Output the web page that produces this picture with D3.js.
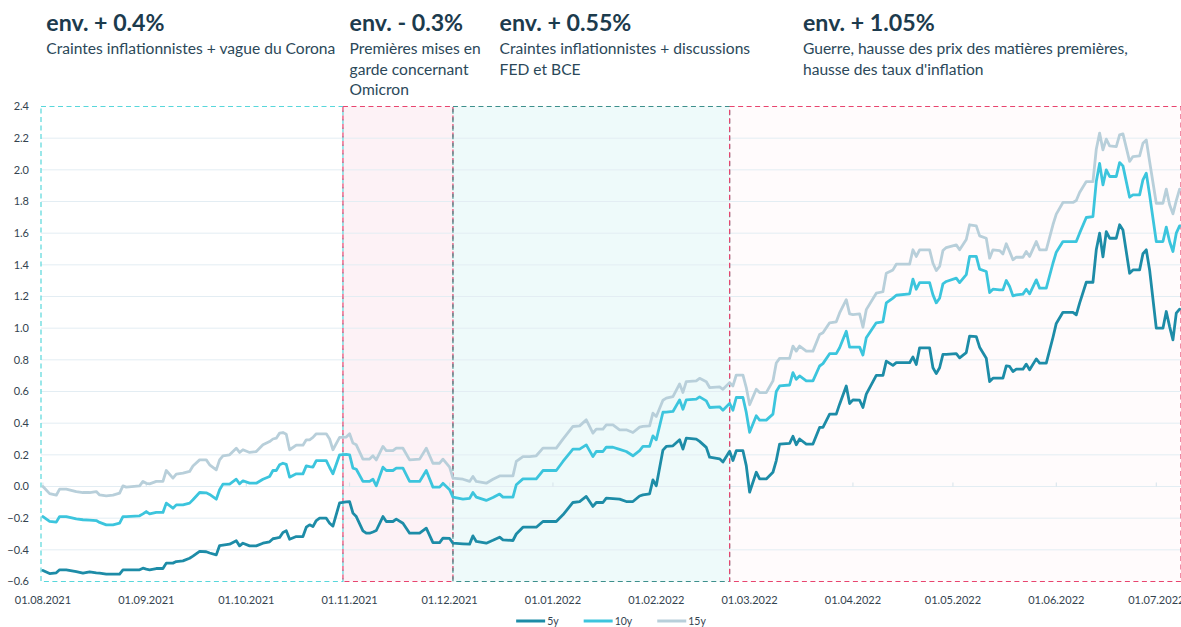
<!DOCTYPE html>
<html><head><meta charset="utf-8">
<script src="https://cdn.jsdelivr.net/npm/d3@7"></script>
<style>
body{margin:0;background:#fff}
svg{display:block}
text{font-family:Lato,"Open Sans",sans-serif}
</style>
</head><body>
<svg id="chart" width="1181" height="627"></svg>
<script>
// ---------- data ----------
const dates = [
 "2021-08-01","2021-08-03","2021-08-05","2021-08-06","2021-08-08","2021-08-11","2021-08-13","2021-08-15","2021-08-17","2021-08-18","2021-08-20","2021-08-22","2021-08-24","2021-08-25","2021-08-26","2021-08-30","2021-08-31",
 "2021-09-01","2021-09-02","2021-09-04","2021-09-06","2021-09-07","2021-09-09","2021-09-10","2021-09-12","2021-09-14","2021-09-15","2021-09-17","2021-09-19","2021-09-20","2021-09-22","2021-09-23","2021-09-24","2021-09-26","2021-09-28","2021-09-29","2021-09-30",
 "2021-10-02","2021-10-04","2021-10-06","2021-10-08","2021-10-09","2021-10-10","2021-10-11","2021-10-12","2021-10-13","2021-10-14","2021-10-16","2021-10-18","2021-10-19","2021-10-20","2021-10-21","2021-10-22","2021-10-23","2021-10-25","2021-10-26","2021-10-27","2021-10-29","2021-10-31",
 "2021-11-01","2021-11-02","2021-11-03","2021-11-05","2021-11-06","2021-11-07","2021-11-08","2021-11-09","2021-11-11","2021-11-12","2021-11-14","2021-11-15","2021-11-17","2021-11-19","2021-11-22","2021-11-24","2021-11-26","2021-11-28","2021-11-29",
 "2021-12-01","2021-12-02","2021-12-05","2021-12-07","2021-12-08","2021-12-09","2021-12-12","2021-12-14","2021-12-16","2021-12-17","2021-12-20","2021-12-21","2021-12-23","2021-12-25","2021-12-27","2021-12-29",
 "2022-01-02","2022-01-04","2022-01-07","2022-01-09","2022-01-11","2022-01-13","2022-01-14","2022-01-16","2022-01-17","2022-01-19","2022-01-21","2022-01-23","2022-01-25","2022-01-27","2022-01-28","2022-01-30","2022-01-31",
 "2022-02-01","2022-02-03","2022-02-04","2022-02-06","2022-02-08","2022-02-09","2022-02-10","2022-02-13","2022-02-14","2022-02-16","2022-02-17","2022-02-20","2022-02-21","2022-02-23","2022-02-24","2022-02-25","2022-02-27","2022-02-28",
 "2022-03-01","2022-03-03","2022-03-04","2022-03-06","2022-03-08","2022-03-09","2022-03-10","2022-03-13","2022-03-14","2022-03-15","2022-03-16","2022-03-18","2022-03-20","2022-03-22","2022-03-23","2022-03-25","2022-03-27","2022-03-28","2022-03-30","2022-03-31",
 "2022-04-01","2022-04-03","2022-04-04","2022-04-05","2022-04-08","2022-04-10","2022-04-11","2022-04-13","2022-04-14","2022-04-18","2022-04-19","2022-04-20","2022-04-21","2022-04-24","2022-04-25","2022-04-26","2022-04-27","2022-04-28","2022-04-29",
 "2022-05-02","2022-05-03","2022-05-05","2022-05-06","2022-05-08","2022-05-09","2022-05-11","2022-05-12","2022-05-13","2022-05-15","2022-05-16","2022-05-17","2022-05-18","2022-05-19","2022-05-20","2022-05-22","2022-05-23","2022-05-24","2022-05-26","2022-05-27","2022-05-29","2022-05-31",
 "2022-06-01","2022-06-03","2022-06-06","2022-06-07","2022-06-08","2022-06-10","2022-06-12","2022-06-13","2022-06-14","2022-06-15","2022-06-16","2022-06-17","2022-06-19","2022-06-20","2022-06-21","2022-06-23","2022-06-24","2022-06-26","2022-06-27","2022-06-28","2022-06-29",
 "2022-07-01","2022-07-03","2022-07-04","2022-07-05","2022-07-06","2022-07-07","2022-07-08"
];
const y5 = [
 -0.53,-0.55,-0.545,-0.526,-0.526,-0.537,-0.547,-0.539,-0.545,-0.547,-0.553,-0.553,-0.553,-0.526,-0.526,-0.526,-0.516,
 -0.522,-0.526,-0.518,-0.518,-0.484,-0.484,-0.474,-0.47,-0.453,-0.44,-0.41,-0.412,-0.42,-0.432,-0.373,-0.37,-0.364,-0.343,-0.375,-0.358,
 -0.375,-0.375,-0.358,-0.349,-0.33,-0.326,-0.322,-0.29,-0.28,-0.333,-0.316,-0.316,-0.257,-0.242,-0.253,-0.215,-0.2,-0.2,-0.232,-0.25,-0.103,-0.097,
 -0.095,-0.168,-0.19,-0.28,-0.295,-0.295,-0.287,-0.278,-0.19,-0.221,-0.221,-0.206,-0.232,-0.295,-0.295,-0.263,-0.354,-0.354,-0.326,
 -0.328,-0.358,-0.362,-0.364,-0.312,-0.347,-0.358,-0.34,-0.32,-0.337,-0.341,-0.3,-0.257,-0.257,-0.257,-0.221,
 -0.221,-0.179,-0.101,-0.095,-0.063,-0.126,-0.101,-0.101,-0.074,-0.077,-0.08,-0.095,-0.095,-0.06,-0.053,-0.046,0.042,
 0.004,0.23,0.253,0.257,0.295,0.236,0.305,0.299,0.285,0.247,0.185,0.175,0.155,0.222,0.164,0.226,0.226,0.132,
 -0.036,0.09,0.048,0.048,0.09,0.164,0.268,0.273,0.317,0.264,0.3,0.268,0.268,0.373,0.373,0.457,0.457,0.52,0.635,0.524,
 0.547,0.545,0.499,0.583,0.702,0.702,0.792,0.765,0.782,0.782,0.818,0.771,0.876,0.876,0.75,0.713,0.75,0.834,0.834,
 0.839,0.813,0.846,0.95,0.947,0.88,0.81,0.663,0.684,0.684,0.684,0.762,0.758,0.726,0.741,0.741,0.773,0.737,0.806,0.779,0.779,0.941,
 1.03,1.1,1.1,1.084,1.158,1.29,1.29,1.495,1.6,1.45,1.61,1.568,1.568,1.653,1.62,1.347,1.368,1.368,1.47,1.495,1.368,
 1.0,1.0,1.105,1.01,0.926,1.095,1.12
];
const y10 = [
 -0.19,-0.22,-0.225,-0.19,-0.19,-0.205,-0.21,-0.212,-0.215,-0.227,-0.242,-0.242,-0.232,-0.19,-0.19,-0.185,-0.173,
 -0.158,-0.173,-0.164,-0.164,-0.105,-0.137,-0.116,-0.116,-0.105,-0.084,-0.038,-0.04,-0.05,-0.08,-0.021,0.015,0.015,0.046,0.017,0.036,
 0.021,0.021,0.046,0.063,0.101,0.101,0.137,0.147,0.14,0.059,0.08,0.08,0.13,0.125,0.122,0.164,0.164,0.164,0.12,0.08,0.2,0.203,
 0.2,0.116,0.109,0.032,0.032,0.032,0.046,0.004,0.122,0.101,0.101,0.116,0.116,0.032,0.032,0.101,-0.004,-0.004,0.02,
 -0.02,-0.067,-0.08,-0.075,-0.038,-0.067,-0.088,-0.07,-0.048,-0.067,-0.067,0.011,0.048,0.048,0.048,0.101,
 0.101,0.158,0.236,0.236,0.263,0.189,0.221,0.221,0.248,0.248,0.235,0.221,0.194,0.227,0.253,0.253,0.32,
 0.295,0.469,0.47,0.474,0.547,0.488,0.547,0.552,0.566,0.541,0.499,0.503,0.482,0.525,0.482,0.562,0.562,0.468,
 0.342,0.447,0.419,0.419,0.457,0.6,0.635,0.641,0.719,0.677,0.698,0.667,0.667,0.761,0.776,0.839,0.839,0.876,0.981,0.88,
 0.88,0.88,0.83,0.939,1.034,1.04,1.159,1.19,1.208,1.217,1.31,1.246,1.288,1.288,1.21,1.16,1.189,1.28,1.295,
 1.316,1.288,1.338,1.453,1.453,1.373,1.358,1.225,1.246,1.242,1.242,1.301,1.263,1.204,1.21,1.215,1.246,1.217,1.305,1.253,1.253,1.41,
 1.48,1.547,1.547,1.547,1.6,1.699,1.705,1.926,2.04,1.905,2.0,1.958,1.958,2.046,2.025,1.827,1.842,1.842,1.937,1.979,1.842,
 1.547,1.547,1.638,1.547,1.484,1.6,1.646
];
const y15 = [
 0.0,-0.045,-0.055,-0.017,-0.017,-0.032,-0.038,-0.038,-0.032,-0.053,-0.059,-0.055,-0.042,0.004,-0.004,0.004,0.032,
 0.02,0.017,0.032,0.032,0.101,0.053,0.078,0.084,0.095,0.13,0.168,0.168,0.137,0.105,0.168,0.194,0.2,0.242,0.215,0.232,
 0.215,0.221,0.263,0.284,0.3,0.305,0.337,0.341,0.33,0.232,0.261,0.261,0.295,0.295,0.31,0.333,0.333,0.333,0.3,0.232,0.31,0.312,
 0.333,0.274,0.263,0.173,0.173,0.173,0.194,0.168,0.253,0.227,0.227,0.242,0.242,0.168,0.173,0.242,0.147,0.147,0.173,
 0.122,0.053,0.046,0.032,0.063,0.032,0.021,0.046,0.067,0.067,0.067,0.158,0.189,0.189,0.194,0.242,
 0.242,0.299,0.379,0.383,0.421,0.337,0.362,0.362,0.389,0.389,0.358,0.358,0.341,0.375,0.38,0.383,0.463,
 0.442,0.545,0.558,0.568,0.648,0.594,0.663,0.667,0.683,0.662,0.625,0.629,0.614,0.656,0.635,0.704,0.704,0.625,
 0.516,0.614,0.593,0.593,0.667,0.78,0.809,0.809,0.887,0.855,0.887,0.855,0.855,0.96,0.971,1.034,1.04,1.096,1.18,1.09,
 1.086,1.09,1.006,1.117,1.221,1.23,1.347,1.368,1.404,1.404,1.495,1.453,1.495,1.495,1.41,1.364,1.39,1.49,1.509,
 1.526,1.495,1.56,1.653,1.646,1.583,1.568,1.442,1.495,1.49,1.469,1.533,1.484,1.432,1.448,1.448,1.484,1.453,1.547,1.495,1.495,1.653,
 1.72,1.794,1.794,1.806,1.857,1.926,1.926,2.13,2.232,2.126,2.194,2.152,2.147,2.221,2.227,2.053,2.084,2.088,2.168,2.189,2.053,
 1.789,1.789,1.878,1.779,1.722,1.806,1.878
];
const seriesNames = ["5y","10y","15y"];
const seriesColors = ["#1d8ca7","#3cc5dd","#b8cfda"];
const yTicks = [-0.6,-0.4,-0.2,0.0,0.2,0.4,0.6,0.8,1.0,1.2,1.4,1.6,1.8,2.0,2.2,2.4];
const monthTicks = ["2021-08-01","2021-09-01","2021-10-01","2021-11-01","2021-12-01","2022-01-01","2022-02-01","2022-03-01","2022-04-01","2022-05-01","2022-06-01","2022-07-01"];
const axisStart = "2021-07-31T10:00", axisEnd = "2022-07-08T10:00";
const phaseStarts = ["2021-07-31T10:00","2021-10-30","2021-12-02","2022-02-23"];
const phaseEnds   = ["2021-10-30","2021-12-02","2022-02-23","2022-07-08T10:00"];
const phaseStroke = ["#58d7db","#e8456f","#3d8f8c","#e8456f"];
const phaseFill   = ["#ffffff","#fdf2f6","#eefafa","#fffbfc"];
const labelDates  = ["2021-08-02","2021-11-01","2021-12-16","2022-03-17"];
const phaseTitles = ["env. + 0.4%","env. - 0.3%","env. + 0.55%","env. + 1.05%"];
const phaseTexts  = [
 ["Craintes inflationnistes + vague du Corona"],
 ["Premières mises en","garde concernant","Omicron"],
 ["Craintes inflationnistes + discussions","FED et BCE"],
 ["Guerre, hausse des prix des matières premières,","hausse des taux d'inflation"]
];

// ---------- chart ----------
const svg = d3.select("#chart");
const parseD = d3.timeParse("%Y-%m-%d");
const parseDT = s => s.includes("T") ? d3.timeParse("%Y-%m-%dT%H:%M")(s) : parseD(s);
const M = {left:41, right:1181, top:106.5, bottom:581.5};
const x = d3.scaleTime().domain([parseDT(axisStart), parseDT(axisEnd)]).range([M.left, M.right]);
const y = d3.scaleLinear().domain([-0.6, 2.4]).range([M.bottom, M.top]);

const phases = phaseStarts.map((s,i)=>({s:parseDT(s), e:parseDT(phaseEnds[i]), stroke:phaseStroke[i], fill:phaseFill[i]}));

// fills
svg.append("g").selectAll("rect").data(phases).join("rect")
  .attr("x", d=>x(d.s)).attr("y", y(2.4))
  .attr("width", d=>x(d.e)-x(d.s)).attr("height", y(-0.6)-y(2.4))
  .attr("fill", d=>d.fill);

// gridlines
svg.append("g").selectAll("line").data(yTicks.filter(v=>v>-0.6 && v<2.4)).join("line")
  .attr("x1", M.left).attr("x2", M.right)
  .attr("y1", d=>y(d)).attr("y2", d=>y(d))
  .attr("stroke", "#e3edf3").attr("stroke-width", 1);

// tick marks on zero line
svg.append("g").selectAll("line").data(monthTicks.map(parseD)).join("line")
  .attr("x1", d=>x(d)).attr("x2", d=>x(d))
  .attr("y1", y(0)-4).attr("y2", y(0))
  .attr("stroke", "#d6e3ea").attr("stroke-width", 1);

// dashed phase borders
svg.append("g").selectAll("rect").data(phases).join("rect")
  .attr("x", d=>x(d.s)).attr("y", y(2.4))
  .attr("width", d=>x(d.e)-x(d.s)).attr("height", y(-0.6)-y(2.4))
  .attr("fill", "none").attr("stroke", d=>d.stroke)
  .attr("stroke-width", 1.2).attr("stroke-dasharray", "5,3.5");

// y axis labels
svg.append("g").selectAll("text").data(yTicks).join("text")
  .attr("x", 29).attr("y", d=>y(d)).attr("dy", "0.35em")
  .attr("text-anchor", "end").attr("font-size", 11).attr("fill", "#34434f")
  .text(d=>d3.format(".1f")(d));

// x axis labels
const fmt = d3.timeFormat("%d.%m.%Y");
svg.append("g").selectAll("text").data(monthTicks.map(parseD)).join("text")
  .attr("x", d=>x(d)).attr("y", 604)
  .attr("text-anchor", "middle").attr("font-size", 11).attr("fill", "#34434f")
  .text(d=>fmt(d));

// lines
const allSeries = [y5, y10, y15];
const line = d3.line().x(d=>x(d.date)).y(d=>y(d.v));
const pDates = dates.map(parseD);
[2,1,0].forEach(i=>{
  const pts = pDates.map((d,j)=>({date:d, v:allSeries[i][j]}));
  svg.append("path").datum(pts)
    .attr("d", line).attr("fill","none")
    .attr("stroke", seriesColors[i]).attr("stroke-width", 2.8)
    .attr("stroke-linejoin","round").attr("stroke-linecap","round");
});

// annotations
labelDates.forEach((ld,i)=>{
  const lx = x(parseD(ld));
  svg.append("text").attr("x", lx).attr("y", 31)
    .attr("font-size", 23.2).attr("font-weight", 700).attr("fill", "#1c3b4d")
    .text(phaseTitles[i]);
  phaseTexts[i].forEach((t,k)=>{
    svg.append("text").attr("x", lx).attr("y", 54 + k*20.5)
      .attr("font-size", 15.6).attr("fill", "#2b4859")
      .text(t);
  });
});

// legend
const legW = [29,29,29], gap = 25;
const legItems = seriesNames.map((n,i)=>({n, c:seriesColors[i]}));
const lg = svg.append("g");
let cx = 0;
legItems.forEach((it,i)=>{
  const g = lg.append("g").attr("transform", `translate(${cx},0)`);
  g.append("line").attr("x1",0).attr("x2",legW[i]).attr("y1",0).attr("y2",0)
    .attr("stroke", it.c).attr("stroke-width", 3);
  const t = g.append("text").attr("x", legW[i]+2).attr("y", 0).attr("dy","0.35em")
    .attr("font-size", 10.5).attr("fill", "#34434f").text(it.n);
  cx += legW[i] + 2 + t.node().getComputedTextLength() + gap;
});
const totalW = cx - gap;
lg.attr("transform", `translate(${(M.left+M.right)/2 - totalW/2},621)`);
</script>
</body></html>
